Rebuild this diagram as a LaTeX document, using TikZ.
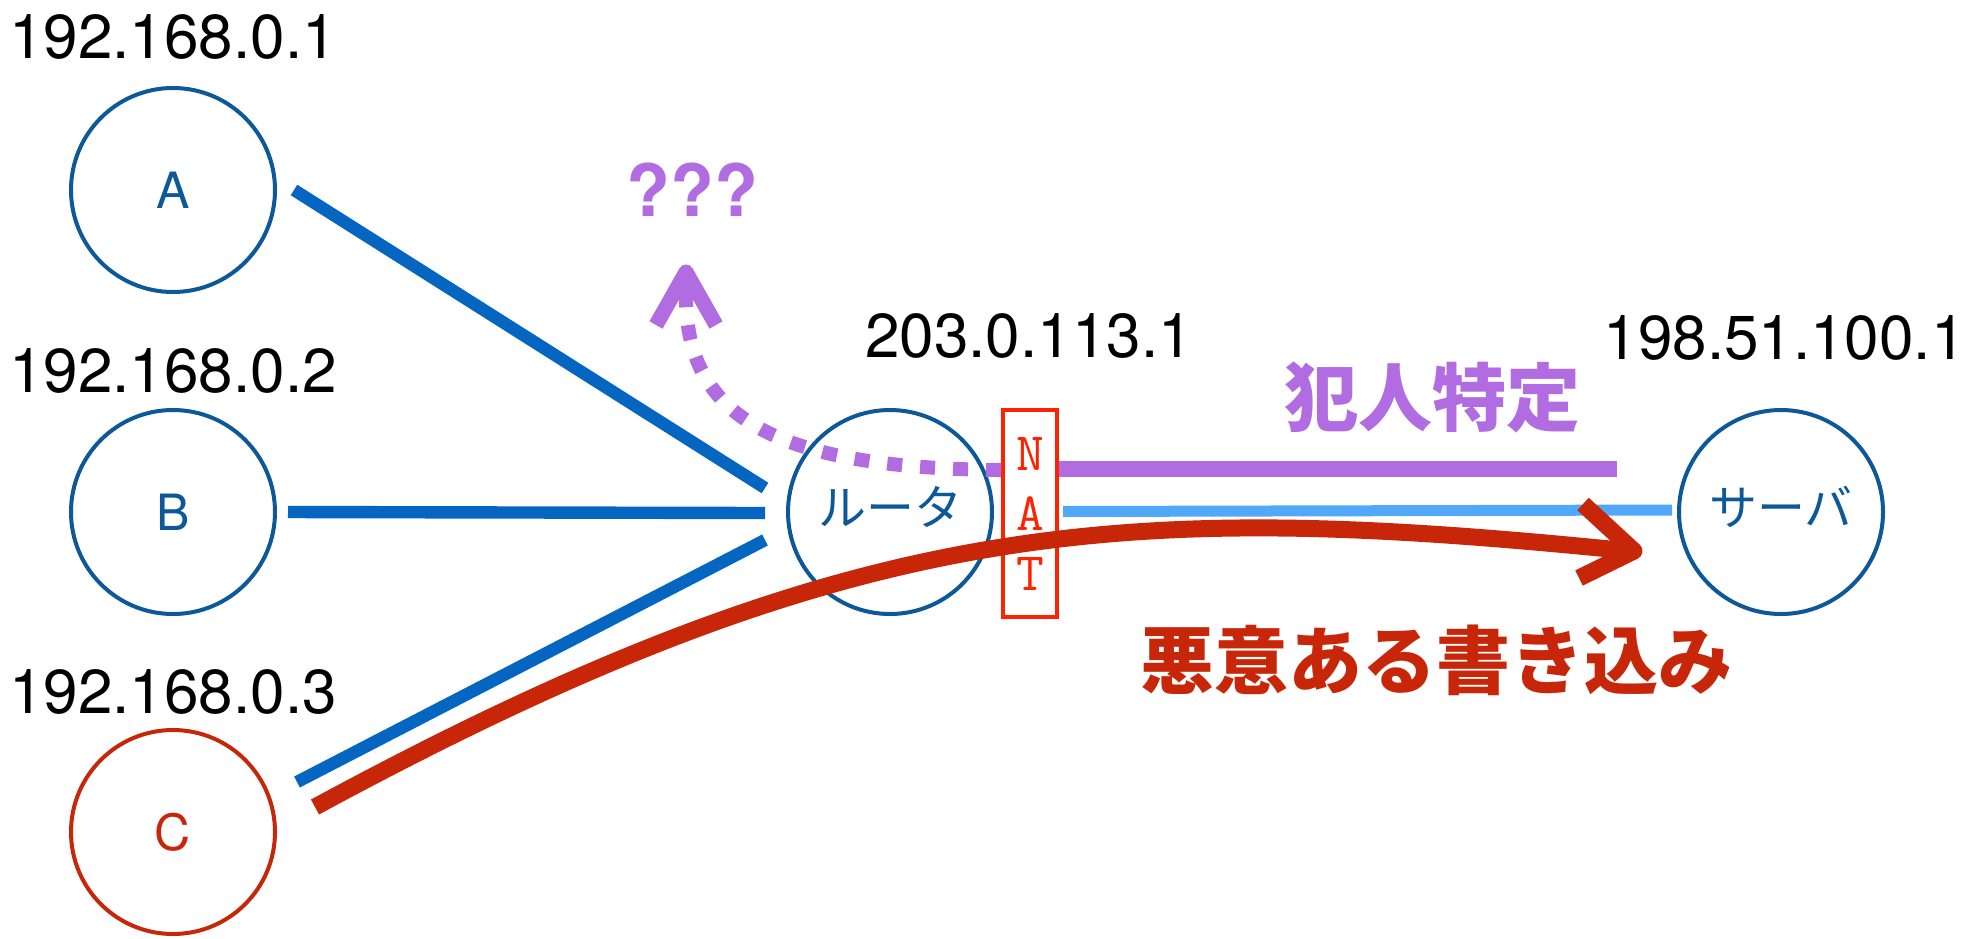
\documentclass[tikz,border=0pt]{standalone}
\usepackage{fontspec}
\usetikzlibrary{calc}
\setmainfont{TeX Gyre Heros}
\newfontfamily\jp{Noto Sans CJK JP}
\definecolor{nodeblue}{RGB}{12,88,152}
\definecolor{lineblue}{RGB}{5,102,194}
\definecolor{lightblue}{RGB}{82,168,248}
\definecolor{purp}{RGB}{176,108,224}
\definecolor{darkred}{RGB}{200,38,8}
\definecolor{natred}{RGB}{255,34,0}
\begin{document}
\begin{tikzpicture}[x=0.5pt,y=-0.5pt,
  host/.style={circle,draw=nodeblue,line width=2pt,minimum size=102pt,inner sep=0pt,text=nodeblue,font=\fontsize{25}{30}\selectfont},
  jphost/.style={host,font=\jp\fontsize{24}{30}\selectfont},
  iplabel/.style={font=\fontsize{31}{36}\selectfont,inner sep=0pt},
  link/.style={line width=6.2pt,draw=lineblue},
  biglabel/.style={font=\jp\bfseries\fontsize{37}{44}\selectfont,inner sep=0pt}]
\useasboundingbox (0,0) rectangle (1963,938);
% hosts
\node[host] (A) at (173,190) {A};
\node[host] (B) at (173,512) {B};
\node[host,draw=darkred,text=darkred] (C) at (173,832) {C};
\node[jphost] (R) at (890,512) {\raisebox{6pt}{ルータ}};
\node[jphost] (S) at (1781,512) {\raisebox{6pt}{サーバ}};
% NAT box
\node[draw=natred,line width=2pt,minimum width=27pt,minimum height=103.5pt,inner sep=0pt,
      text=natred,font=\ttfamily\fontsize{27}{30}\selectfont,align=center] (NAT) at (1030,513.5) {N\\A\\T};
% ip labels
\node[iplabel] (ipA) at (173,37) {192.168.0.1};
\node[iplabel] (ipB) at (173,371) {192.168.0.2};
\node[iplabel] (ipC) at (173,692) {192.168.0.3};
\node[iplabel] (ipR) at (1029,336) {203.0.113.1};
\node[iplabel,anchor=east] (ipS) at (1966,338) {198.51.100.1};
% link endpoints
\coordinate (a0) at ($(A.east)+(17,0)$);
\coordinate (a1) at (765,488);
\coordinate (b0) at ($(B.east)+(11,0)$);
\coordinate (b1) at (765,513);
\coordinate (c0) at (297,782);
\coordinate (c1) at (765,540);
\draw[link] (a0) -- (a1);
\draw[link] (b0) -- (b1);
\draw[link] (c0) -- (c1);
% NAT -> server
\coordinate (l0) at ($(NAT.east)+(4,-2)$);
\coordinate (l1) at ($(S.west)+(-5,-2)$);
\draw[line width=5.5pt,draw=lightblue] (l0) -- (l1);
\coordinate (p1) at (1617,469);
\draw[line width=8.2pt,draw=purp] (NAT.east |- p1) -- (p1);
% purple dotted
\coordinate (d0) at (1001,470);
\coordinate (d1) at (686,300);
\coordinate (dt) at (686,272);
\draw[line width=7pt,draw=purp,dash pattern=on 7.5pt off 9pt] (d0) .. controls (780,468) and (688,420) .. (d1);
\draw[line width=7pt,draw=purp] (d1) -- (dt);
\draw[line width=7.5pt,draw=purp,line join=round] (656,325) -- (dt) -- (716,325);
% red arrow
\coordinate (r0) at ($(C.east)+(38,-25)$);
\coordinate (r1) at (1630,551);
\draw[line width=8.5pt,draw=darkred] (r0) .. controls (863,510) and (1130,501) .. (r1);
\draw[line width=8.5pt,draw=darkred,line join=round] (1583,504) -- (1634,551) -- (1579,578);
% labels
\node[font=\bfseries\fontsize{36}{42}\selectfont,text=purp,inner sep=0pt] (q) at (692,190) {???};
\node[biglabel,text=purp] (t1) at (1432,397) {犯人特定};
\node[biglabel,text=darkred] (t2) at (1436,660) {悪意ある書き込み};
\end{tikzpicture}
\end{document}
